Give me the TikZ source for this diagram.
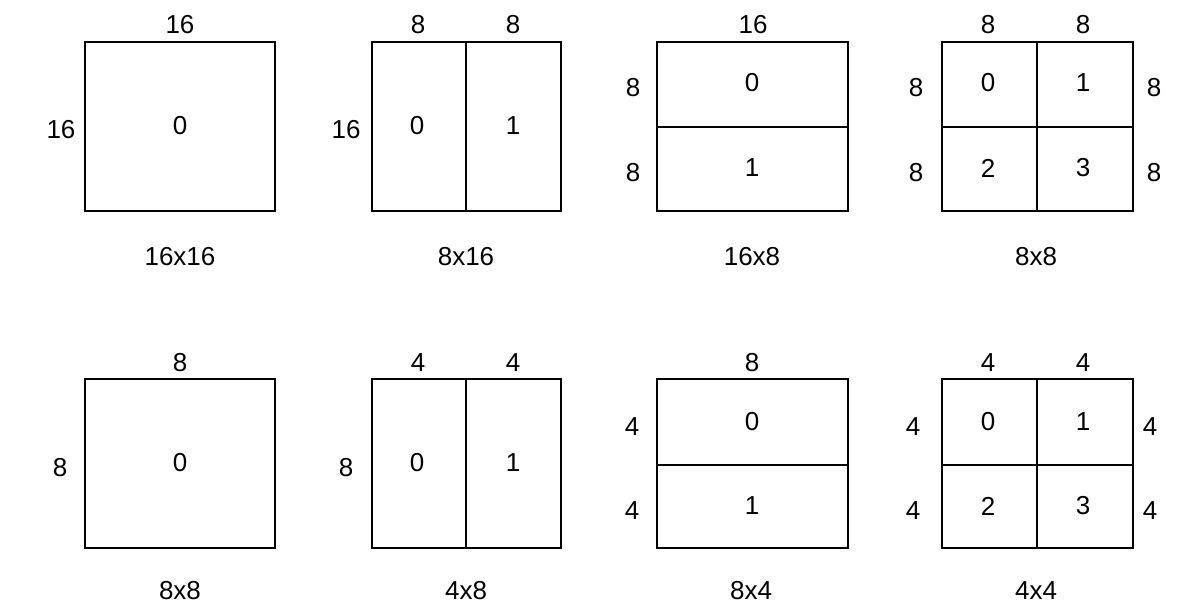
\documentclass[tikz,border=0pt]{standalone}
\usepackage{fontspec}
\setmainfont{Liberation Sans}

\begin{document}
\begin{tikzpicture}[x=1pt,y=-1pt,
  line width=1.8pt,
  every node/.style={font=\fontsize{26}{30}\selectfont}]

\useasboundingbox (0,0) rectangle (1201,607);

% 16x16
\begin{scope}[shift={(85,42)}]
\draw (0,0) rectangle (190,169);
\node (aa) at (95,84) {0};
\node (atop) at (95,-17) {16};
\node (aleft) at (-24,88) {16};
\node (acap) at (95,215) {16x16};
\end{scope}

% 8x16
\begin{scope}[shift={(372,42)}]
\draw (0,0) rectangle (189,169);
\draw (94,0) -- (94,169);
\node (ba) at (45,84) {0};
\node (bb) at (141,84) {1};
\node (btopa) at (46,-17) {8};
\node (btopb) at (141,-17) {8};
\node (bleft) at (-26,88) {16};
\node (bcap) at (94,215) {8x16};
\end{scope}

% 16x8
\begin{scope}[shift={(657,42)}]
\draw (0,0) rectangle (191,169);
\draw (0,85) -- (191,85);
\node (ca) at (95,41) {0};
\node (cb) at (95,126) {1};
\node (ctop) at (96,-17) {16};
\node (clefta) at (-24,46) {8};
\node (cleftb) at (-24,131) {8};
\node (ccap) at (95,215) {16x8};
\end{scope}

% 8x8
\begin{scope}[shift={(942,42)}]
\draw (0,0) rectangle (191,169);
\draw (95,0) -- (95,169);
\draw (0,85) -- (191,85);
\node (da) at (46,41) {0};
\node (db) at (141,41) {1};
\node (dc) at (46,126) {2};
\node (dd) at (141,126) {3};
\node (dtopa) at (46,-17) {8};
\node (dtopb) at (141,-17) {8};
\node (dlefta) at (-26,46) {8};
\node (dleftb) at (-26,131) {8};
\node (drighta) at (212,46) {8};
\node (drightb) at (212,131) {8};
\node (dcap) at (94,215) {8x8};
\end{scope}

% 8x8
\begin{scope}[shift={(85,379)}]
\draw (0,0) rectangle (190,169);
\node (ea) at (95,84) {0};
\node (etop) at (95,-16) {8};
\node (eleft) at (-25,89) {8};
\node (ecap) at (95,212) {8x8};
\end{scope}

% 4x8
\begin{scope}[shift={(372,379)}]
\draw (0,0) rectangle (189,169);
\draw (94,0) -- (94,169);
\node (fa) at (45,84) {0};
\node (fb) at (141,84) {1};
\node (ftopa) at (46,-16) {4};
\node (ftopb) at (141,-16) {4};
\node (fleft) at (-26,89) {8};
\node (fcap) at (94,212) {4x8};
\end{scope}

% 8x4
\begin{scope}[shift={(657,379)}]
\draw (0,0) rectangle (191,169);
\draw (0,86) -- (191,86);
\node (ga) at (95,43) {0};
\node (gb) at (95,127) {1};
\node (gtop) at (95,-16) {8};
\node (glefta) at (-25,48) {4};
\node (gleftb) at (-25,132) {4};
\node (gcap) at (94,212) {8x4};
\end{scope}

% 4x4
\begin{scope}[shift={(942,379)}]
\draw (0,0) rectangle (191,169);
\draw (95,0) -- (95,169);
\draw (0,86) -- (191,86);
\node (ha) at (46,43) {0};
\node (hb) at (141,43) {1};
\node (hc) at (46,127) {2};
\node (hd) at (141,127) {3};
\node (htopa) at (46,-16) {4};
\node (htopb) at (141,-16) {4};
\node (hlefta) at (-29,48) {4};
\node (hleftb) at (-29,132) {4};
\node (hrighta) at (208,48) {4};
\node (hrightb) at (208,132) {4};
\node (hcap) at (94,212) {4x4};
\end{scope}

\end{tikzpicture}
\end{document}
